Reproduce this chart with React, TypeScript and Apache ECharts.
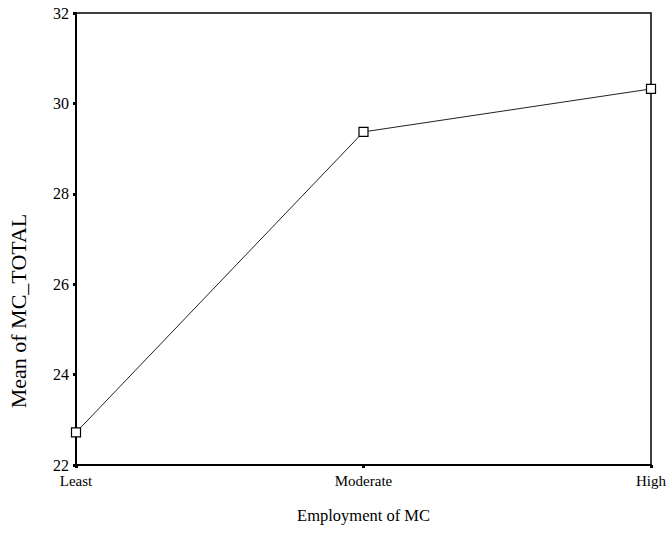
import React, { useEffect, useRef } from "react";
import * as echarts from "echarts";

const categories = ["Least", "Moderate", "High"];
const meanValues = [22.72, 29.37, 30.32];
const yTicks = { min: 22, max: 32, interval: 2 };
const xAxisTitle = "Employment of MC";
const yAxisTitle = "Mean of MC_TOTAL";

const FONT = "'Liberation Serif', 'Times New Roman', serif";

export default function App() {
  const ref = useRef<HTMLDivElement>(null);
  useEffect(() => {
    if (!ref.current) return;
    const chart = echarts.init(ref.current, null, { renderer: "svg" });
    chart.setOption({
      animation: false,
      backgroundColor: "#ffffff",
      grid: {
        left: 76,
        right: 17,
        top: 13,
        bottom: 83,
        show: true,
        borderColor: "#000",
        borderWidth: 1.5,
      },
      graphic: [
        {
          type: "text",
          x: 18,
          y: 311,
          rotation: Math.PI / 2,
          style: {
            text: yAxisTitle,
            fontFamily: FONT,
            fontSize: 22,
            fill: "#000",
            textAlign: "center",
            textVerticalAlign: "middle",
          },
        },
      ],
      xAxis: {
        type: "category",
        data: categories,
        boundaryGap: false,
        name: xAxisTitle,
        nameLocation: "middle",
        nameGap: 42,
        nameTextStyle: { fontFamily: FONT, fontSize: 16.5, color: "#000" },
        axisLine: { lineStyle: { color: "#000", width: 2 } },
        axisTick: { show: true, length: 3, lineStyle: { color: "#000", width: 3 } },
        axisLabel: { fontFamily: FONT, fontSize: 15, color: "#000", margin: 8 },
        splitLine: { show: false },
      },
      yAxis: {
        type: "value",
        min: yTicks.min,
        max: yTicks.max,
        interval: yTicks.interval,
        axisLine: { show: true, lineStyle: { color: "#000", width: 2 } },
        axisTick: { show: true, length: 3, lineStyle: { color: "#000", width: 3 } },
        axisLabel: { fontFamily: FONT, fontSize: 16, color: "#000", margin: 7 },
        splitLine: { show: false },
      },
      series: [
        {
          type: "line",
          data: meanValues,
          symbol: "rect",
          symbolSize: 9,
          itemStyle: { color: "#fff", borderColor: "#000", borderWidth: 1.2 },
          lineStyle: { color: "#222", width: 1 },
        },
      ],
    });
    return () => chart.dispose();
  }, []);
  return <div ref={ref} style={{ width: 669, height: 548, position: "absolute", left: 0, top: 0 }} />;
}
